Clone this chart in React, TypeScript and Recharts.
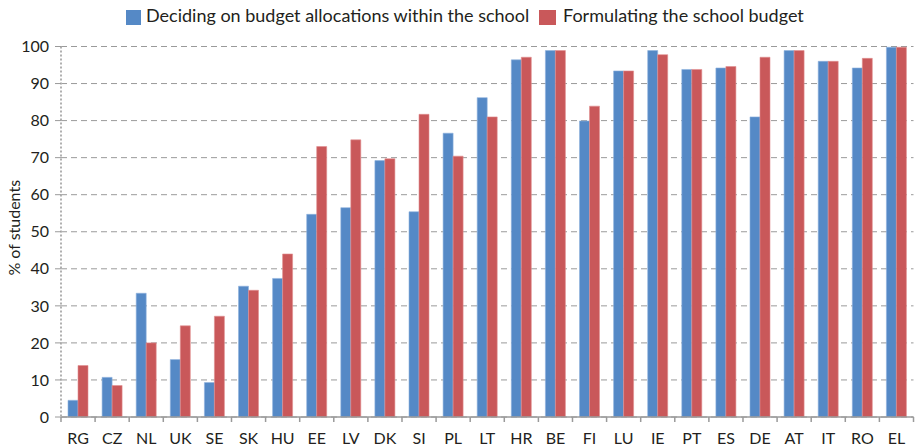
import React from 'react';
import { BarChart, Bar, XAxis, YAxis, CartesianGrid } from 'recharts';

// country codes, left to right
const countries = ['RG', 'CZ', 'NL', 'UK', 'SE', 'SK', 'HU', 'EE', 'LV', 'DK', 'SI', 'PL', 'LT', 'HR', 'BE', 'FI', 'LU', 'IE', 'PT', 'ES', 'DE', 'AT', 'IT', 'RO', 'EL'];
const deciding = [4.5, 10.7, 33.4, 15.5, 9.3, 35.3, 37.4, 54.7, 56.5, 69.2, 55.4, 76.6, 86.2, 96.4, 98.9, 79.9, 93.4, 98.9, 93.8, 94.2, 81.0, 98.9, 96.0, 94.2, 99.8];
const formulating = [13.9, 8.5, 20.0, 24.6, 27.2, 34.2, 44.0, 73.0, 74.8, 69.7, 81.7, 70.4, 81.0, 97.1, 98.9, 83.9, 93.4, 97.8, 93.8, 94.6, 97.1, 98.9, 96.0, 96.8, 99.8];
const yTicks = [0, 10, 20, 30, 40, 50, 60, 70, 80, 90, 100];

const data = countries.map((c, i) => ({ country: c, deciding: deciding[i], formulating: formulating[i] }));

const BLUE = '#5589c6';
const RED = '#c9585a';
const FONT = 'Lato, "Open Sans", sans-serif';
const BAND = 853 / countries.length;

// label under the bar pair + tick mark on the category boundary
// (y given here is axis line + 8)
const CountryTick = (props: any) => {
  const { x, y, payload, index } = props;
  const last = index === countries.length - 1;
  const y0 = y - 8;
  return (
    <g>
      <line x1={x - BAND / 2} x2={x - BAND / 2} y1={y0} y2={y0 + 5} stroke="#9a9a9a" strokeWidth={1.5} />
      {last && <line x1={x + BAND / 2} x2={x + BAND / 2} y1={y0} y2={y0 + 5} stroke="#9a9a9a" strokeWidth={1.5} />}
      <text x={x} y={y0 + 27} textAnchor="middle" fontSize={16} fontFamily={FONT} fill="#231f20">
        {payload.value}
      </text>
    </g>
  );
};

// rotated axis title, centred on the plot height
const YTitle = (props: any) => {
  const { viewBox } = props;
  const cy = viewBox.y + viewBox.height / 2 - 4;
  return (
    <text x={20} y={cy} transform={`rotate(-90, 20, ${cy})`} textAnchor="middle" fontSize={16} fontFamily={FONT} fill="#231f20">
      % of students
    </text>
  );
};

export default function App() {
  return (
    <div style={{ position: 'absolute', left: 0, top: 0, width: 916, height: 447, background: '#fff' }}>
      {/* legend drawn by hand, above the plot */}
      <div style={{ position: 'absolute', left: 126, top: 10, width: 15, height: 15, background: BLUE }} />
      <div style={{ position: 'absolute', left: 146, top: 5, fontFamily: FONT, fontSize: 18, lineHeight: '20px', color: '#231f20', whiteSpace: 'nowrap' }}>
        Deciding on budget allocations within the school
      </div>
      <div style={{ position: 'absolute', left: 539, top: 10, width: 17, height: 15, background: RED }} />
      <div style={{ position: 'absolute', left: 563, top: 5, fontFamily: FONT, fontSize: 18, lineHeight: '20px', color: '#231f20', whiteSpace: 'nowrap' }}>
        Formulating the school budget
      </div>

      <BarChart
        width={916}
        height={447}
        data={data}
        margin={{ top: 46.5, right: 2.5, bottom: 0, left: 0 }}
        barGap={0}
        style={{ position: 'absolute', left: 0, top: 0 }}
      >
        <CartesianGrid vertical={false} stroke="#9a9a9a" strokeDasharray="6 4" />
        <XAxis
          dataKey="country"
          height={30}
          interval={0}
          tickLine={false}
          axisLine={{ stroke: '#9a9a9a', strokeWidth: 1.5 }}
          tick={<CountryTick />}
        />
        <YAxis
          width={61}
          domain={[0, 100]}
          ticks={yTicks}
          interval={0}
          tickSize={6}
          tickMargin={6}
          tickLine={{ stroke: '#9a9a9a' }}
          axisLine={{ stroke: '#b0b0b0', strokeWidth: 2, strokeDasharray: '2 2' }}
          tick={{ fontSize: 16, fontFamily: FONT, fill: '#231f20' }}
          label={{ content: <YTitle /> }}
        />
        <Bar dataKey="deciding" fill={BLUE} stroke="#8fb2dd" strokeWidth={0.6} barSize={10} isAnimationActive={false} />
        <Bar dataKey="formulating" fill={RED} stroke="#e08f90" strokeWidth={0.6} barSize={10} isAnimationActive={false} />
      </BarChart>
    </div>
  );
}
